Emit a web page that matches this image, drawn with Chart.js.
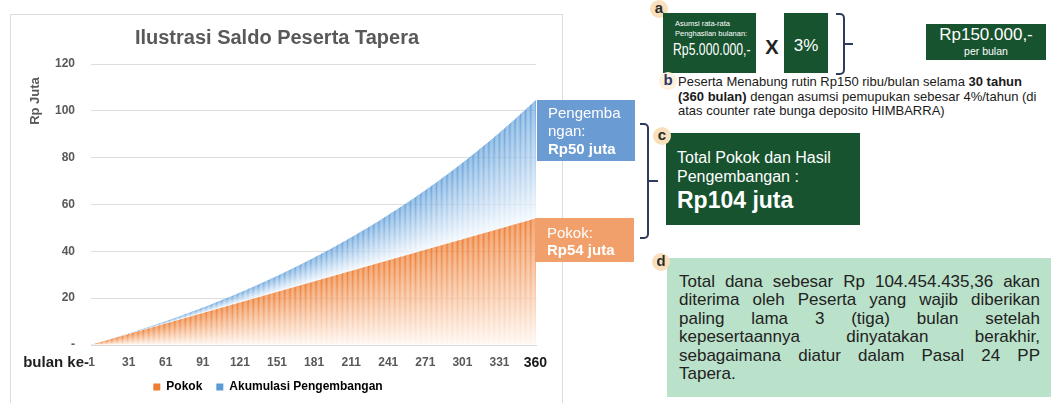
<!DOCTYPE html>
<html>
<head>
<meta charset="utf-8">
<script src="https://cdn.jsdelivr.net/npm/chart.js@4.4.1/dist/chart.umd.min.js"></script>
<style>
  html, body { margin: 0; padding: 0; background: #fff; }
  body { width: 1051px; height: 403px; position: relative; overflow: hidden; font-family: "Liberation Sans", Arial, sans-serif; }
  .abs { position: absolute; white-space: nowrap; }
  #frame { left: 10px; top: 14px; width: 551px; height: 400px; border: 1px solid #dcdcdc; }
  #saldoChart { position: absolute; left: 0; top: 0; }
  .green { background: #17532f; color: #fff; }
  .dot { width: 18px; height: 18px; border-radius: 50%; background: #f9e0bd; color: #2b2b2b; font-weight: bold; font-size: 15px; line-height: 16px; text-align: center; }
  .brace { border: 2px solid #2f3b5e; border-left: none; border-radius: 0 5px 5px 0; }
  .tick { background: #2f3b5e; height: 2px; }
  .line { display: block; text-align: justify; text-align-last: justify; }
</style>
</head>
<body>
<div id="frame" class="abs"></div>
<canvas id="saldoChart" width="562" height="403"></canvas>

<!-- chart texts -->
<div class="abs" style="left:77px; top:25px; width:400px; text-align:center; font-size:20px; line-height:24px; font-weight:bold; color:#595959;">Ilustrasi Saldo Peserta Tapera</div>
<div class="abs" style="left:5px; top:93px; width:60px; height:16px; line-height:16px; text-align:center; font-size:13px; font-weight:bold; color:#595959; transform:rotate(-90deg);">Rp Juta</div>
<div class="abs" style="left:0; top:353px; width:89px; text-align:right; font-size:15px; line-height:18px; font-weight:bold; color:#1f1f1f;">bulan ke-</div>

<!-- callouts on the chart -->
<div class="abs" style="left:537px; top:100px; width:98px; height:61px; background:#6a9bd3;"></div>
<div class="abs" style="left:548px; top:104px; font-size:15px; line-height:18px; color:#fff;">Pengemba<br>ngan:<br><b>Rp50 juta</b></div>
<div class="abs" style="left:535px; top:218px; width:99px; height:44px; background:#f1a06c;"></div>
<div class="abs" style="left:547px; top:224px; font-size:15px; line-height:17px; color:#fff;">Pokok:<br><b>Rp54 juta</b></div>

<!-- a -->
<div class="abs dot" style="left:650px; top:0px;">a</div>
<div class="abs green" style="left:663px; top:13px; width:93px; height:60px;"></div>
<div class="abs" style="left:675px; top:19px; font-size:7.5px; line-height:10px; color:#fff;">Asumsi rata-rata<br>Penghasilan bulanan:</div>
<div class="abs" style="left:673px; top:39px; font-size:17px; line-height:21px; color:#fff; transform:scaleX(0.72); transform-origin:left center;">Rp5.000.000,-</div>
<div class="abs" style="left:762px; top:35px; width:20px; text-align:center; font-size:20px; line-height:24px; font-weight:bold; color:#222;">X</div>
<div class="abs green" style="left:784px; top:13px; width:44px; height:60px;"></div>
<div class="abs" style="left:784px; top:36px; width:44px; text-align:center; font-size:17px; line-height:20px; color:#fff;">3%</div>
<div class="abs brace" style="left:836px; top:13px; width:7px; height:58px;"></div>
<div class="abs tick" style="left:845px; top:43px; width:8px;"></div>
<div class="abs green" style="left:926px; top:24px; width:120px; height:36px;"></div>
<div class="abs" style="left:926px; top:25px; width:120px; text-align:center; font-size:17px; line-height:20px; color:#fff;">Rp150.000,-</div>
<div class="abs" style="left:926px; top:45px; width:120px; text-align:center; font-size:10.5px; line-height:12px; color:#fff;">per bulan</div>

<!-- b -->
<div class="abs dot" style="left:659px; top:72px; background:#fdf0dd; color:#2b3763;">b</div>
<div class="abs" style="left:678px; top:75px; font-size:13px; line-height:14.5px; color:#1a1a1a;">Peserta Menabung rutin Rp150 ribu/bulan selama <b>30 tahun</b><br><b>(360 bulan)</b> dengan asumsi pemupukan sebesar 4%/tahun (di<br>atas counter rate bunga deposito HIMBARRA)</div>

<!-- c -->
<div class="abs brace" style="left:640px; top:123px; width:7px; height:112px;"></div>
<div class="abs tick" style="left:649px; top:180px; width:9px;"></div>
<div class="abs green" style="left:666px; top:133px; width:194px; height:92px;"></div>
<div class="abs dot" style="left:653px; top:127px;">c</div>
<div class="abs" style="left:677px; top:148px; font-size:16px; line-height:19px; color:#fff;">Total Pokok dan Hasil<br>Pengembangan :</div>
<div class="abs" style="left:677px; top:186px; font-size:23px; line-height:28px; font-weight:bold; color:#fff;">Rp104 juta</div>

<!-- d -->
<div class="abs" style="left:667px; top:258px; width:384px; height:139px; background:#bae1c9;"></div>
<div class="abs dot" style="left:652px; top:253px;">d</div>
<div class="abs" style="left:679px; top:273px; width:361px; font-size:17px; line-height:18.4px; color:#222; white-space:normal;">
  <span class="line">Total dana sebesar Rp 104.454.435,36 akan</span>
  <span class="line">diterima oleh Peserta yang wajib diberikan</span>
  <span class="line">paling lama 3 (tiga) bulan setelah</span>
  <span class="line">kepesertaannya dinyatakan berakhir,</span>
  <span class="line">sebagaimana diatur dalam Pasal 24 PP</span>
  <span style="display:block;">Tapera.</span>
</div>

<script>
// saldo per bulan (Rp juta)
const pokok = [
  0.15, 0.3, 0.45, 0.6, 0.75, 0.9, 1.05, 1.2, 1.35, 1.5, 1.65, 1.8,
  1.95, 2.1, 2.25, 2.4, 2.55, 2.7, 2.85, 3, 3.15, 3.3, 3.45, 3.6,
  3.75, 3.9, 4.05, 4.2, 4.35, 4.5, 4.65, 4.8, 4.95, 5.1, 5.25, 5.4,
  5.55, 5.7, 5.85, 6, 6.15, 6.3, 6.45, 6.6, 6.75, 6.9, 7.05, 7.2,
  7.35, 7.5, 7.65, 7.8, 7.95, 8.1, 8.25, 8.4, 8.55, 8.7, 8.85, 9,
  9.15, 9.3, 9.45, 9.6, 9.75, 9.9, 10.05, 10.2, 10.35, 10.5, 10.65, 10.8,
  10.95, 11.1, 11.25, 11.4, 11.55, 11.7, 11.85, 12, 12.15, 12.3, 12.45, 12.6,
  12.75, 12.9, 13.05, 13.2, 13.35, 13.5, 13.65, 13.8, 13.95, 14.1, 14.25, 14.4,
  14.55, 14.7, 14.85, 15, 15.15, 15.3, 15.45, 15.6, 15.75, 15.9, 16.05, 16.2,
  16.35, 16.5, 16.65, 16.8, 16.95, 17.1, 17.25, 17.4, 17.55, 17.7, 17.85, 18,
  18.15, 18.3, 18.45, 18.6, 18.75, 18.9, 19.05, 19.2, 19.35, 19.5, 19.65, 19.8,
  19.95, 20.1, 20.25, 20.4, 20.55, 20.7, 20.85, 21, 21.15, 21.3, 21.45, 21.6,
  21.75, 21.9, 22.05, 22.2, 22.35, 22.5, 22.65, 22.8, 22.95, 23.1, 23.25, 23.4,
  23.55, 23.7, 23.85, 24, 24.15, 24.3, 24.45, 24.6, 24.75, 24.9, 25.05, 25.2,
  25.35, 25.5, 25.65, 25.8, 25.95, 26.1, 26.25, 26.4, 26.55, 26.7, 26.85, 27,
  27.15, 27.3, 27.45, 27.6, 27.75, 27.9, 28.05, 28.2, 28.35, 28.5, 28.65, 28.8,
  28.95, 29.1, 29.25, 29.4, 29.55, 29.7, 29.85, 30, 30.15, 30.3, 30.45, 30.6,
  30.75, 30.9, 31.05, 31.2, 31.35, 31.5, 31.65, 31.8, 31.95, 32.1, 32.25, 32.4,
  32.55, 32.7, 32.85, 33, 33.15, 33.3, 33.45, 33.6, 33.75, 33.9, 34.05, 34.2,
  34.35, 34.5, 34.65, 34.8, 34.95, 35.1, 35.25, 35.4, 35.55, 35.7, 35.85, 36,
  36.15, 36.3, 36.45, 36.6, 36.75, 36.9, 37.05, 37.2, 37.35, 37.5, 37.65, 37.8,
  37.95, 38.1, 38.25, 38.4, 38.55, 38.7, 38.85, 39, 39.15, 39.3, 39.45, 39.6,
  39.75, 39.9, 40.05, 40.2, 40.35, 40.5, 40.65, 40.8, 40.95, 41.1, 41.25, 41.4,
  41.55, 41.7, 41.85, 42, 42.15, 42.3, 42.45, 42.6, 42.75, 42.9, 43.05, 43.2,
  43.35, 43.5, 43.65, 43.8, 43.95, 44.1, 44.25, 44.4, 44.55, 44.7, 44.85, 45,
  45.15, 45.3, 45.45, 45.6, 45.75, 45.9, 46.05, 46.2, 46.35, 46.5, 46.65, 46.8,
  46.95, 47.1, 47.25, 47.4, 47.55, 47.7, 47.85, 48, 48.15, 48.3, 48.45, 48.6,
  48.75, 48.9, 49.05, 49.2, 49.35, 49.5, 49.65, 49.8, 49.95, 50.1, 50.25, 50.4,
  50.55, 50.7, 50.85, 51, 51.15, 51.3, 51.45, 51.6, 51.75, 51.9, 52.05, 52.2,
  52.35, 52.5, 52.65, 52.8, 52.95, 53.1, 53.25, 53.4, 53.55, 53.7, 53.85, 54
];

const pengembangan = [
  0, 0, 0, 0.01, 0.01, 0.01, 0.01, 0.02, 0.02, 0.03, 0.03, 0.04,
  0.05, 0.05, 0.06, 0.07, 0.08, 0.09, 0.10, 0.11, 0.12, 0.13, 0.14, 0.15,
  0.17, 0.18, 0.19, 0.21, 0.22, 0.24, 0.26, 0.27, 0.29, 0.31, 0.33, 0.35,
  0.37, 0.39, 0.41, 0.43, 0.45, 0.47, 0.50, 0.52, 0.54, 0.57, 0.59, 0.62,
  0.65, 0.67, 0.70, 0.73, 0.76, 0.79, 0.82, 0.85, 0.88, 0.91, 0.94, 0.98,
  1.01, 1.05, 1.08, 1.12, 1.15, 1.19, 1.23, 1.27, 1.30, 1.34, 1.38, 1.42,
  1.47, 1.51, 1.55, 1.59, 1.64, 1.68, 1.73, 1.77, 1.82, 1.87, 1.91, 1.96,
  2.01, 2.06, 2.11, 2.16, 2.21, 2.27, 2.32, 2.37, 2.43, 2.48, 2.54, 2.59,
  2.65, 2.71, 2.77, 2.83, 2.89, 2.95, 3.01, 3.07, 3.13, 3.20, 3.26, 3.33,
  3.39, 3.46, 3.52, 3.59, 3.66, 3.73, 3.80, 3.87, 3.94, 4.01, 4.09, 4.16,
  4.24, 4.31, 4.39, 4.46, 4.54, 4.62, 4.70, 4.78, 4.86, 4.94, 5.02, 5.10,
  5.19, 5.27, 5.36, 5.44, 5.53, 5.62, 5.70, 5.79, 5.88, 5.97, 6.07, 6.16,
  6.25, 6.34, 6.44, 6.53, 6.63, 6.73, 6.83, 6.92, 7.02, 7.12, 7.23, 7.33,
  7.43, 7.53, 7.64, 7.74, 7.85, 7.96, 8.07, 8.18, 8.28, 8.40, 8.51, 8.62,
  8.73, 8.85, 8.96, 9.08, 9.19, 9.31, 9.43, 9.55, 9.67, 9.79, 9.91, 10.04,
  10.16, 10.29, 10.41, 10.54, 10.67, 10.79, 10.92, 11.05, 11.19, 11.32, 11.45, 11.58,
  11.72, 11.86, 11.99, 12.13, 12.27, 12.41, 12.55, 12.69, 12.84, 12.98, 13.12, 13.27,
  13.42, 13.56, 13.71, 13.86, 14.01, 14.16, 14.32, 14.47, 14.63, 14.78, 14.94, 15.10,
  15.26, 15.42, 15.58, 15.74, 15.90, 16.06, 16.23, 16.40, 16.56, 16.73, 16.90, 17.07,
  17.24, 17.41, 17.59, 17.76, 17.94, 18.12, 18.29, 18.47, 18.65, 18.83, 19.02, 19.20,
  19.38, 19.57, 19.76, 19.94, 20.13, 20.32, 20.51, 20.71, 20.90, 21.10, 21.29, 21.49,
  21.69, 21.89, 22.09, 22.29, 22.49, 22.69, 22.90, 23.11, 23.31, 23.52, 23.73, 23.94,
  24.16, 24.37, 24.58, 24.80, 25.02, 25.23, 25.45, 25.68, 25.90, 26.12, 26.35, 26.57,
  26.80, 27.03, 27.26, 27.49, 27.72, 27.95, 28.19, 28.42, 28.66, 28.90, 29.14, 29.38,
  29.62, 29.87, 30.11, 30.36, 30.60, 30.85, 31.10, 31.36, 31.61, 31.86, 32.12, 32.38,
  32.63, 32.89, 33.16, 33.42, 33.68, 33.95, 34.21, 34.48, 34.75, 35.02, 35.29, 35.57,
  35.84, 36.12, 36.40, 36.68, 36.96, 37.24, 37.52, 37.81, 38.09, 38.38, 38.67, 38.96,
  39.26, 39.55, 39.84, 40.14, 40.44, 40.74, 41.04, 41.34, 41.65, 41.95, 42.26, 42.57,
  42.88, 43.19, 43.51, 43.82, 44.14, 44.46, 44.78, 45.10, 45.42, 45.74, 46.07, 46.40,
  46.73, 47.06, 47.39, 47.72, 48.06, 48.40, 48.74, 49.08, 49.42, 49.76, 50.11, 50.45
];

// bulan ke-1 .. ke-360
const bulan = pokok.map((v, i) => String(i + 1));
const xTickLabels = ['1', '31', '61', '91', '121', '151', '181', '211', '241', '271', '301', '331', '360'];
const seriesLabels = ['Pokok', 'Akumulasi Pengembangan'];
const seriesColors = ['#ed7d31', '#5b9bd5'];

// gradient per bar, strong at the top, fading to white at the bottom
function barFill(c, idx) {
  const stops = idx === 0 ? ['#ee8036', '#fff7f1'] : ['#6ba5dc', '#f3f8fd'];
  const yScale = c.chart.scales.y;
  if (c.type !== 'data' || !yScale) return stops[0];
  const i = c.dataIndex;
  const base = idx === 0 ? 0 : pokok[i];
  const top = idx === 0 ? pokok[i] : pokok[i] + pengembangan[i];
  const g = c.chart.ctx.createLinearGradient(0, yScale.getPixelForValue(top), 0, yScale.getPixelForValue(base));
  g.addColorStop(0, stops[0]);
  g.addColorStop(1, stops[1]);
  return g;
}

Chart.defaults.font.family = '"Liberation Sans", Arial, sans-serif';

const saldoChart = new Chart(document.getElementById('saldoChart'), {
  type: 'bar',
  data: {
    labels: bulan,
    datasets: [
      { label: seriesLabels[0], data: pokok, backgroundColor: c => barFill(c, 0) },
      { label: seriesLabels[1], data: pengembangan, backgroundColor: c => barFill(c, 1) }
    ]
  },
  options: {
    responsive: false,
    animation: false,
    barPercentage: 1,
    categoryPercentage: 0.85,
    layout: { padding: { top: 64, right: 26, bottom: 0, left: 0 } },
    scales: {
      x: {
        stacked: true,
        grid: { display: false, drawTicks: false },
        border: { color: '#d9d9d9' },
        ticks: {
          autoSkip: false,
          maxRotation: 0,
          padding: 10,
          callback: function (v) {
            const lab = this.getLabelForValue(v);
            return xTickLabels.includes(lab) ? lab : '';
          },
          color: c => c.index === 359 ? '#1a1a1a' : '#595959',
          font: c => c.index === 359 ? { size: 14, weight: 'bold' } : { size: 12, weight: 'bold' }
        },
        afterFit: s => { s.height = 22; }
      },
      y: {
        stacked: true,
        min: 0,
        max: 120,
        grid: { color: '#dedede', drawTicks: false },
        border: { display: false },
        ticks: {
          stepSize: 20,
          padding: 16,
          color: '#595959',
          font: { size: 12, weight: 'bold' },
          callback: v => v === 0 ? '-' : v
        },
        afterFit: s => { s.width = 91; }
      }
    },
    plugins: {
      tooltip: { enabled: false },
      legend: {
        position: 'bottom',
        labels: {
          boxWidth: 7,
          boxHeight: 7,
          padding: 14,
          color: '#595959',
          font: { size: 12, weight: 'bold' },
          generateLabels: chart => chart.data.datasets.map((ds, i) => ({
            text: ds.label,
            fillStyle: seriesColors[i],
            strokeStyle: seriesColors[i],
            lineWidth: 0,
            hidden: false,
            datasetIndex: i
          }))
        }
      }
    }
  }
});
</script>
</body>
</html>
